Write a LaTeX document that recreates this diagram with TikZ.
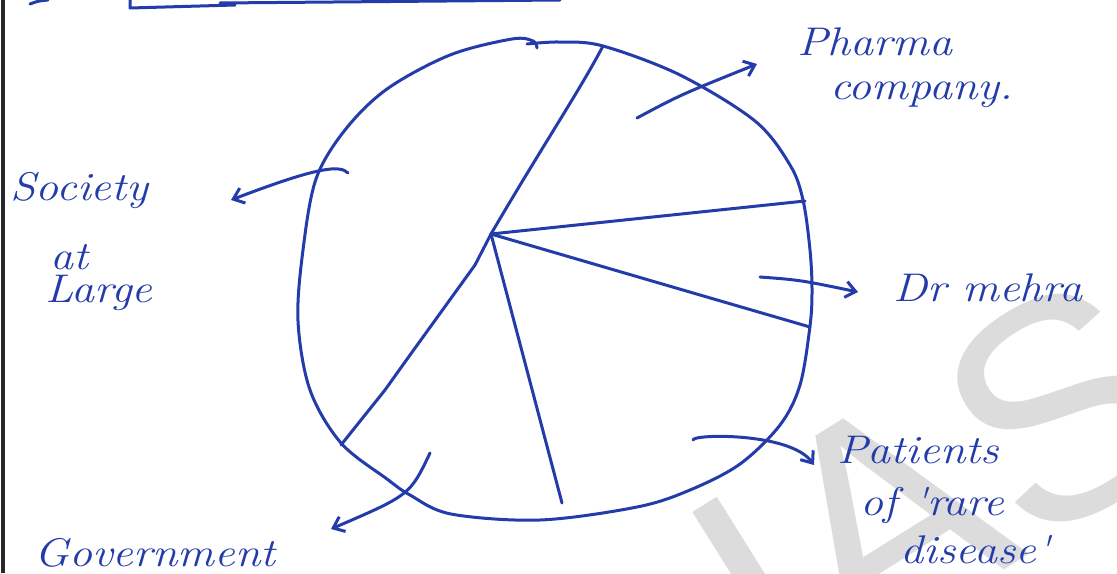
\documentclass[tikz,border=0pt]{standalone}
\usepackage{fontspec}
\setmainfont{Latin Modern Roman}
\newfontfamily\hand[FakeStretch=1.15]{Latin Modern Roman}
\newfontfamily\wmfont{Liberation Sans}
\usetikzlibrary{arrows.meta}
\definecolor{ink}{RGB}{35,60,170}
\definecolor{wmgray}{RGB}{220,220,220}
\definecolor{edge}{RGB}{40,40,40}
\begin{document}
\begin{tikzpicture}[x=0.5pt,y=-0.5pt,
  pen/.style={draw=ink,line width=1.5pt,line cap=round,line join=round},
  arr/.style={pen,-{Straight Barb[length=5pt,width=8pt,line width=1.5pt]}},
  lbl/.style={text=ink,font=\hand\itshape\fontsize{20}{24}\selectfont,inner sep=0pt,align=left},
  wmark/.style={text=wmgray,font=\wmfont\fontsize{155}{155}\selectfont,inner sep=0pt}]
\useasboundingbox (0,0) rectangle (1117,573);
\clip (0,0) rectangle (1117,573);
\fill[white] (0,0) rectangle (1117,573);
% watermark
\node[wmark,rotate=32] (wm) at (937,486) {IAS};
% page edge and top remnants
\draw[edge,line width=2pt] (3,0) -- (3,573);
\draw[pen] (30,4) .. controls (38,1) .. (48,0);
\draw[pen] (130,0) -- (130,8) -- (235,5);
\draw[pen] (220,3) -- (560,0);
% circle
\draw[pen] plot[smooth,tension=0.55] coordinates {
 (527,44) (560,42) (603,46) (680,75) (755,121) (790,165) (803,200) (810,250)
 (812,290) (810,326) (800,385) (780,425) (740,464) (690,490) (637,507)
 (540,520) (451,514) (410,495) (387,479) (341,443) (310,390) (298,321)
 (303,250) (316,179) (345,130) (387,89) (450,55) (512,39) (533,41) (537,48)};
% spokes
\coordinate (c) at (491,234);
\coordinate (s1) at (603,46);
\coordinate (s2) at (805,201);
\coordinate (s3) at (810,327);
\coordinate (s4) at (562,503);
\coordinate (s5) at (341,445);
\draw[pen] (c) .. controls (540,150) and (580,90) .. (s1);
\draw[pen] (c) -- (s2);
\draw[pen] (c) -- (700,295) -- (s3);
\draw[pen] (c) -- (s4);
\draw[pen] (c) -- (475,265) -- (410,355) -- (385,390) -- (s5);
% labels
\node[lbl,anchor=west] (pharma) at (797,42) {Pharma};
\node[lbl,anchor=west] (company) at (830,95) {company.};
\node[lbl,anchor=west] (society) at (10,190) {Society};
\node[lbl,anchor=west] (at) at (50,257) {at};
\node[lbl,anchor=west] (large) at (45,293) {Large};
\node[lbl,anchor=west] (mehra) at (893,288) {Dr mehra};
\node[lbl,anchor=west] (patients) at (837,450) {Patients};
\node[lbl,anchor=west] (of) at (860,505) {of 'rare};
\node[lbl,anchor=west] (disease) at (900,550) {disease'};
\node[lbl,anchor=west] (gov) at (34,553) {Government};
% arrows
\coordinate (a1) at (637,118); \coordinate (h1) at (757,64);
\coordinate (a2) at (348,173); \coordinate (h2) at (231,200);
\coordinate (a3) at (760,277); \coordinate (h3) at (858,292);
\coordinate (a4) at (693,440); \coordinate (h4) at (814,465);
\coordinate (a5) at (430,453); \coordinate (h5) at (331,529);
\draw[arr] (a1) .. controls (680,95) .. (h1);
\draw[arr] (a2) .. controls (340,165) and (320,166) .. (h2);
\draw[arr] (a3) .. controls (800,280) .. (h3);
\draw[arr] (a4) .. controls (692,434) and (790,432) .. (h4);
\draw[arr] (a5) .. controls (410,495) .. (h5);
\end{tikzpicture}
\end{document}
